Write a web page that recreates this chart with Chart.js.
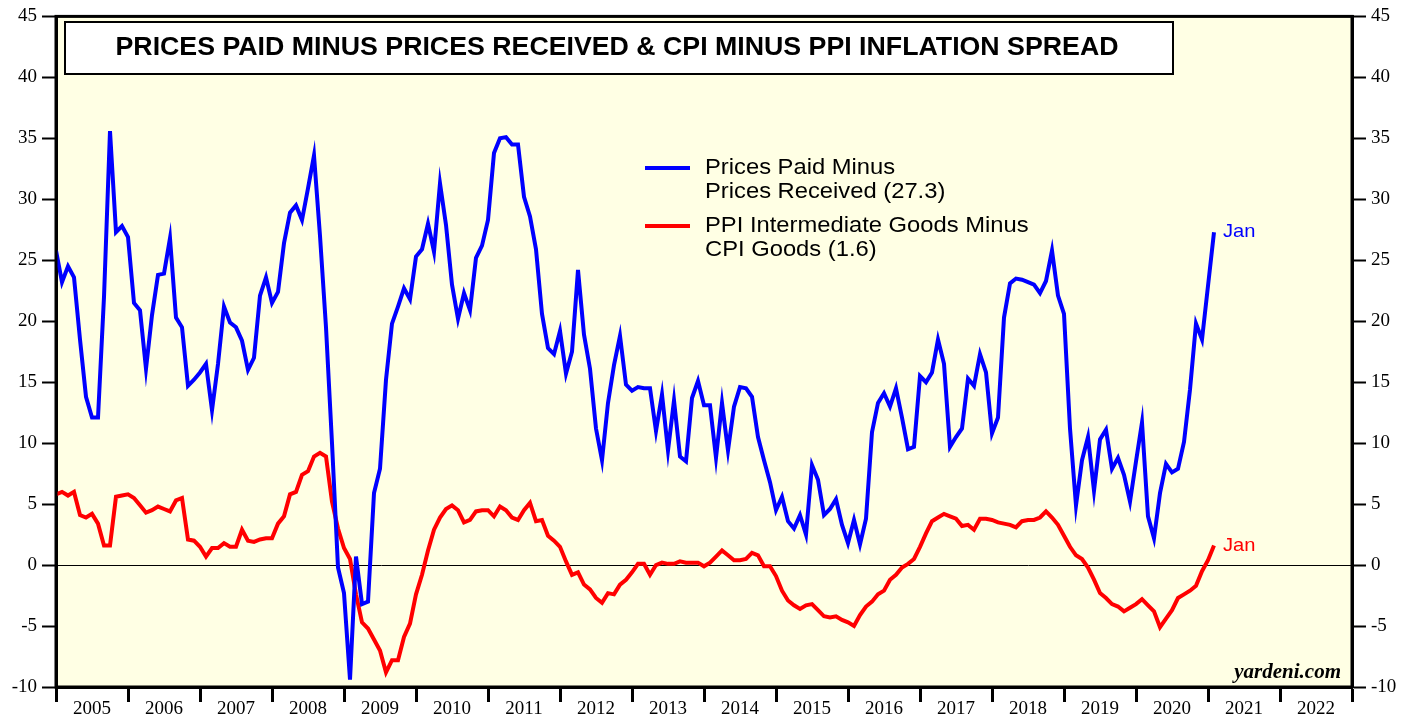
<!DOCTYPE html>
<html lang="en">
<head>
  <meta charset="UTF-8"/>
  <title>Prices Paid Minus Prices Received &amp; CPI Minus PPI</title>
  <script src="https://cdn.jsdelivr.net/npm/chart.js"></script>
  <style>
    html, body { margin: 0; padding: 0; background: #fff; }
    canvas { display: block; }
  </style>
</head>
<body>
  <canvas id="spreadChart" width="1417" height="715"></canvas>
  <script>
    // monthly, first value = Dec 2004, last value = Jan 2021
    const pricesPaidMinusReceived = [
      25.8, 23.2, 24.5, 23.6, 18.5, 13.8, 12.1, 12.1, 22.0, 35.6, 27.3, 27.8, 26.9,
      21.5, 20.9, 16.1, 20.5, 23.8, 23.9, 26.8, 20.3, 19.5, 14.7, 15.2, 15.8,
      16.5, 12.7, 16.5, 21.2, 19.9, 19.5, 18.4, 16.0, 17.0, 22.1, 23.6, 21.5,
      22.4, 26.4, 28.9, 29.5, 28.3, 30.9, 33.6, 27.0, 19.5, 10.0, -0.2, -2.3,
      -9.4, 0.7, -3.2, -3.0, 5.9, 7.9, 15.2, 19.8, 21.2, 22.7, 21.8, 25.3,
      25.9, 28.0, 25.7, 31.3, 27.9, 23.0, 20.2, 22.3, 20.9, 25.2, 26.2, 28.3,
      33.8, 35.0, 35.1, 34.5, 34.5, 30.2, 28.6, 25.9, 20.6, 17.8, 17.3, 19.2,
      15.7, 17.5, 24.2, 18.9, 16.1, 11.2, 8.6, 13.3, 16.4, 18.8, 14.8, 14.3,
      14.6, 14.5, 14.5, 11.0, 14.0, 9.4, 13.5, 8.9, 8.5, 13.7, 15.1, 13.1,
      13.1, 8.8, 13.3, 9.4, 13.0, 14.6, 14.5, 13.8, 10.5, 8.6, 6.8, 4.5,
      5.6, 3.6, 3.0, 4.1, 2.5, 8.2, 7.0, 4.1, 4.6, 5.4, 3.3, 1.8,
      3.7, 1.7, 3.8, 10.9, 13.3, 14.1, 13.0, 14.5, 12.1, 9.5, 9.7, 15.5,
      15.0, 15.8, 18.5, 16.5, 9.7, 10.5, 11.2, 15.3, 14.7, 17.3, 15.8, 10.8,
      12.1, 20.3, 23.1, 23.5, 23.4, 23.2, 23.0, 22.3, 23.3, 25.8, 22.1, 20.6,
      11.2, 4.9, 8.6, 10.5, 6.1, 10.3, 11.1, 7.9, 8.8, 7.4, 5.2, 8.5,
      11.7, 4.0, 2.2, 5.9, 8.3, 7.6, 7.9, 10.1, 14.4, 19.8, 18.5, 22.9,
      27.3
    ];

    const ppiMinusCpiGoods = [
      5.8, 6.0, 5.7, 6.0, 4.1, 3.9, 4.2, 3.4, 1.6, 1.6, 5.6, 5.7, 5.8,
      5.5, 4.9, 4.3, 4.5, 4.8, 4.6, 4.4, 5.3, 5.5, 2.1, 2.0, 1.5,
      0.7, 1.4, 1.4, 1.8, 1.5, 1.5, 2.9, 2.0, 1.9, 2.1, 2.2, 2.2,
      3.4, 4.0, 5.8, 6.0, 7.4, 7.7, 8.9, 9.2, 8.9, 5.2, 3.0, 1.4,
      0.5, -2.4, -4.7, -5.2, -6.1, -7.0, -8.8, -7.8, -7.8, -5.9, -4.8, -2.4,
      -0.8, 1.2, 2.9, 3.9, 4.6, 4.9, 4.5, 3.5, 3.7, 4.4, 4.5, 4.5,
      4.0, 4.8, 4.5, 3.9, 3.7, 4.5, 5.1, 3.6, 3.7, 2.4, 2.0, 1.5,
      0.3, -0.8, -0.6, -1.6, -2.0, -2.7, -3.1, -2.3, -2.4, -1.6, -1.2, -0.6,
      0.1, 0.1, -0.8, 0.0, 0.2, 0.1, 0.1, 0.3, 0.2, 0.2, 0.2, -0.1,
      0.2, 0.7, 1.2, 0.8, 0.4, 0.4, 0.5, 1.0, 0.8, -0.1, -0.1, -0.9,
      -2.1, -2.9, -3.3, -3.6, -3.3, -3.2, -3.7, -4.2, -4.3, -4.2, -4.5, -4.7,
      -5.0, -4.1, -3.4, -3.0, -2.4, -2.1, -1.2, -0.8, -0.2, 0.1, 0.5, 1.5,
      2.6, 3.6, 3.9, 4.2, 4.0, 3.8, 3.2, 3.3, 2.9, 3.8, 3.8, 3.7,
      3.5, 3.4, 3.3, 3.1, 3.6, 3.7, 3.7, 3.9, 4.4, 3.9, 3.3, 2.4,
      1.5, 0.8, 0.5, -0.2, -1.2, -2.3, -2.7, -3.2, -3.4, -3.8, -3.5, -3.2,
      -2.8, -3.3, -3.8, -5.1, -4.4, -3.7, -2.7, -2.4, -2.1, -1.7, -0.5, 0.4,
      1.6
    ];

    const years = ["2005", "2006", "2007", "2008", "2009", "2010", "2011", "2012", "2013",
                   "2014", "2015", "2016", "2017", "2018", "2019", "2020", "2021", "2022"];
    const yTicks = [-10, -5, 0, 5, 10, 15, 20, 25, 30, 35, 40, 45];

    const seriesNames = [
      ["Prices Paid Minus", "Prices Received (27.3)"],
      ["PPI Intermediate Goods Minus", "CPI Goods (1.6)"]
    ];
    const chartTitle = "PRICES PAID MINUS PRICES RECEIVED & CPI MINUS PPI INFLATION SPREAD";

    const BLUE = "#0000ff";
    const RED = "#ff0000";
    const SANS = "'Liberation Sans', Arial, sans-serif";
    const SERIF = "'Liberation Serif', 'Times New Roman', serif";

    // x = months since start of 2005 (value sits at month end)
    const toPoints = arr => arr.map((v, i) => ({ x: i, y: v }));

    // the original uses a wide sans, so stretch text a little horizontally
    function wideText(ctx, text, x, y, sx) {
      ctx.save();
      ctx.translate(x, y);
      ctx.scale(sx, 1);
      ctx.fillText(text, 0, 0);
      ctx.restore();
    }

    const decorations = {
      id: "decorations",
      beforeDraw(chart) {
        const { ctx, chartArea: a } = chart;
        ctx.save();
        ctx.fillStyle = "#fff";
        ctx.fillRect(0, 0, chart.width, chart.height);
        ctx.fillStyle = "#ffffe4";
        ctx.fillRect(a.left, a.top, a.right - a.left, a.bottom - a.top);
        ctx.restore();
      },
      afterDraw(chart) {
        const { ctx, chartArea: a } = chart;
        ctx.save();

        // frame
        ctx.strokeStyle = "#000";
        ctx.lineWidth = 3;
        ctx.strokeRect(a.left, a.top, a.right - a.left, a.bottom - a.top);

        // title box
        ctx.fillStyle = "#fff";
        ctx.fillRect(65, 22, 1108, 52);
        ctx.lineWidth = 2;
        ctx.strokeRect(65, 22, 1108, 52);
        ctx.fillStyle = "#000";
        ctx.font = "bold 25px " + SANS;
        ctx.textAlign = "center";
        ctx.textBaseline = "middle";
        const titleScale = 1003 / ctx.measureText(chartTitle).width;
        wideText(ctx, chartTitle, 617, 48, titleScale);

        // legend
        ctx.textAlign = "left";
        ctx.font = "22px " + SANS;
        const legendRows = [[BLUE, 168], [RED, 226]];
        legendRows.forEach(([col, y], i) => {
          ctx.strokeStyle = col;
          ctx.lineWidth = 4;
          ctx.beginPath();
          ctx.moveTo(645, y);
          ctx.lineTo(690, y);
          ctx.stroke();
          ctx.fillStyle = "#000";
          wideText(ctx, seriesNames[i][0], 705, y, 1.08);
          wideText(ctx, seriesNames[i][1], 705, y + 24, 1.08);
        });

        // end-of-series labels
        ctx.font = "19px " + SANS;
        [BLUE, RED].forEach((col, i) => {
          const pts = chart.getDatasetMeta(i).data;
          const last = pts[pts.length - 1];
          ctx.fillStyle = col;
          wideText(ctx, "Jan", last.x + 9, last.y, 1.06);
        });

        // source
        ctx.fillStyle = "#000";
        ctx.font = "italic bold 21px " + SERIF;
        ctx.textAlign = "right";
        ctx.textBaseline = "alphabetic";
        ctx.fillText("yardeni.com", 1341, 678);
        ctx.restore();
      }
    };

    const yAxis = (position, width, showZero) => ({
      position,
      min: -10,
      max: 45,
      afterBuildTicks: s => { s.ticks = yTicks.map(v => ({ value: v })); },
      afterFit: s => { s.width = width; },
      border: { display: true, color: "#000", width: 3 },
      grid: {
        drawOnChartArea: showZero,
        color: ctx => (ctx.tick && ctx.tick.value === 0) ? "#000" : "rgba(0,0,0,0)",
        lineWidth: 1,
        tickColor: "#000",
        tickLength: 14,
        tickWidth: 2
      },
      ticks: {
        color: "#000",
        padding: 5,
        font: { family: SERIF, size: 19 }
      }
    });

    new Chart(document.getElementById("spreadChart"), {
      type: "line",
      data: {
        datasets: [
          {
            label: seriesNames[0].join(" "),
            data: toPoints(pricesPaidMinusReceived),
            borderColor: BLUE,
            borderWidth: 4,
            pointRadius: 0,
            tension: 0,
            yAxisID: "y"
          },
          {
            label: seriesNames[1].join(" "),
            data: toPoints(ppiMinusCpiGoods),
            borderColor: RED,
            borderWidth: 4,
            pointRadius: 0,
            tension: 0,
            yAxisID: "y"
          }
        ]
      },
      options: {
        responsive: false,
        devicePixelRatio: 1,
        animation: false,
        layout: { padding: { top: 14, left: 0, right: 0, bottom: 0 } },
        plugins: {
          legend: { display: false },
          title: { display: false },
          tooltip: { enabled: false }
        },
        scales: {
          x: {
            type: "linear",
            min: 0,
            max: years.length * 12,
            afterBuildTicks: s => {
              const t = [];
              for (let v = 0; v <= years.length * 12; v += 6) t.push({ value: v });
              s.ticks = t;
            },
            afterFit: s => { s.height = 28; },
            border: { display: true, color: "#000", width: 3 },
            grid: {
              drawOnChartArea: false,
              tickLength: 15,
              tickWidth: 3,
              tickColor: ctx => (ctx.tick && ctx.tick.value % 12 === 0) ? "#000" : "rgba(0,0,0,0)"
            },
            ticks: {
              autoSkip: false,
              maxRotation: 0,
              color: "#000",
              padding: -4,
              font: { family: SERIF, size: 19 },
              callback: v => (v % 12 === 6) ? years[(v - 6) / 12] : ""
            }
          },
          y: yAxis("left", 56, true),
          y2: yAxis("right", 65, false)
        }
      },
      plugins: [decorations]
    });
  </script>
</body>
</html>
